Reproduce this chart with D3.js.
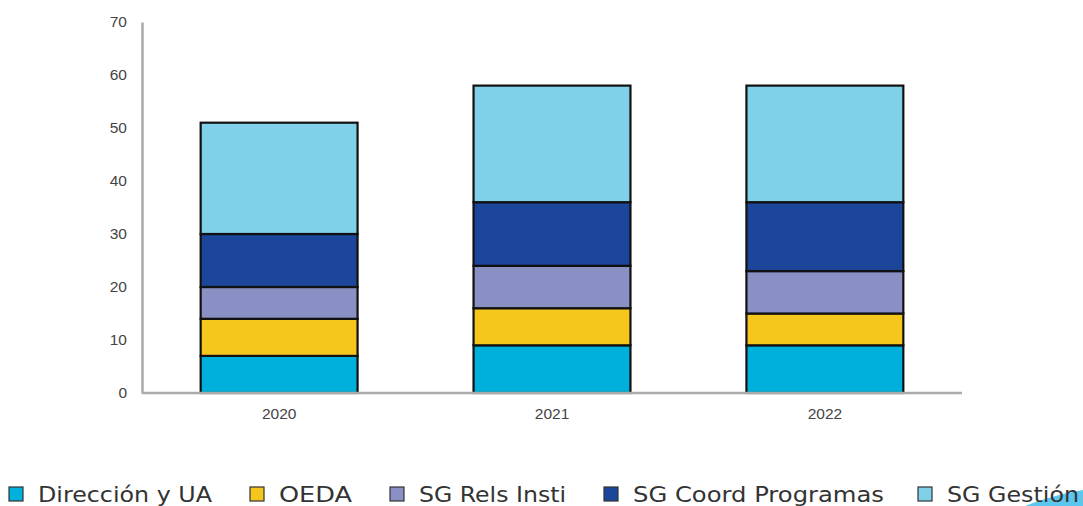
<!DOCTYPE html>
<html><head><meta charset="utf-8">
<script src="https://cdn.jsdelivr.net/npm/d3@7"></script>
<style>body{margin:0;background:#fff;} svg{display:block;}</style>
</head><body>
<svg id="c" width="1083" height="506"></svg>
<script>
const years = ["2020", "2021", "2022"];
const seriesNames = ["Dirección y UA", "OEDA", "SG Rels Insti", "SG Coord Programas", "SG Gestión"];
const direccion = [7, 9, 9];
const oeda = [7, 7, 6];
const rels = [6, 8, 8];
const coord = [10, 12, 13];
const gestion = [21, 22, 22];
const yTicks = [0, 10, 20, 30, 40, 50, 60, 70];
const colors = ["#00b0dc", "#f5c61c", "#8a8fc4", "#1c469a", "#80d0ea"];

const seriesValues = [direccion, oeda, rels, coord, gestion];
const table = years.map((y, i) => {
  const o = {year: y};
  seriesNames.forEach((s, j) => o[s] = seriesValues[j][i]);
  return o;
});

const svg = d3.select("#c");
const m = {left: 142, right: 962, top: 22, bottom: 393};
const x = d3.scaleBand().domain(years).range([m.left, m.right]).paddingInner(0.425).paddingOuter(0.215);
const y = d3.scaleLinear().domain([0, 70]).range([m.bottom, m.top]);

const stack = d3.stack().keys(seriesNames)(table);

svg.append("g").selectAll("g").data(stack).join("g")
  .attr("fill", (d, i) => colors[i])
  .selectAll("rect").data(d => d).join("rect")
  .attr("x", d => x(d.data.year))
  .attr("width", x.bandwidth())
  .attr("y", d => y(d[1]))
  .attr("height", d => y(d[0]) - y(d[1]))
  .attr("stroke", "#111").attr("stroke-width", 2.2);

// axes
const yAxis = svg.append("g").attr("transform", `translate(${m.left},0)`)
  .call(d3.axisLeft(y).tickValues(yTicks).tickSize(0).tickPadding(15));
yAxis.select(".domain").attr("stroke", "#aaa").attr("stroke-width", 2.5);
yAxis.selectAll("text").attr("fill", "#444").attr("font-family", "Liberation Sans, Arial, sans-serif").attr("font-size", 15.5);

const xAxis = svg.append("g").attr("transform", `translate(0,${m.bottom})`)
  .call(d3.axisBottom(x).tickSize(0).tickPadding(15));
xAxis.select(".domain").attr("stroke", "#aaa").attr("stroke-width", 2.5).attr("d", `M${m.left},0H${m.right}`);
xAxis.selectAll("text").attr("fill", "#444").attr("font-family", "Liberation Sans, Arial, sans-serif").attr("font-size", 15.5);

// decorative swoosh
svg.append("path")
  .attr("d", "M1025,506 C1045,498 1065,493 1083,490 L1083,506 Z")
  .attr("fill", "#5bc6ee");

// legend
const legX = [9, 250, 390, 604, 918];
const legW = [174, 73, 147, 251, 132];
const leg = svg.append("g");
seriesNames.forEach((s, i) => {
  const g = leg.append("g").attr("transform", `translate(${legX[i]},487)`);
  g.append("rect").attr("x", 0).attr("y", 0).attr("width", 14).attr("height", 14)
    .attr("fill", colors[i]).attr("stroke", "#333").attr("stroke-width", 1.2);
  g.append("text").attr("x", 29).attr("y", 15).text(s)
    .attr("textLength", legW[i]).attr("lengthAdjust", "spacingAndGlyphs")
    .attr("font-family", "DejaVu Sans, sans-serif").attr("font-size", 21).attr("fill", "#333");
});
</script>
</body></html>
